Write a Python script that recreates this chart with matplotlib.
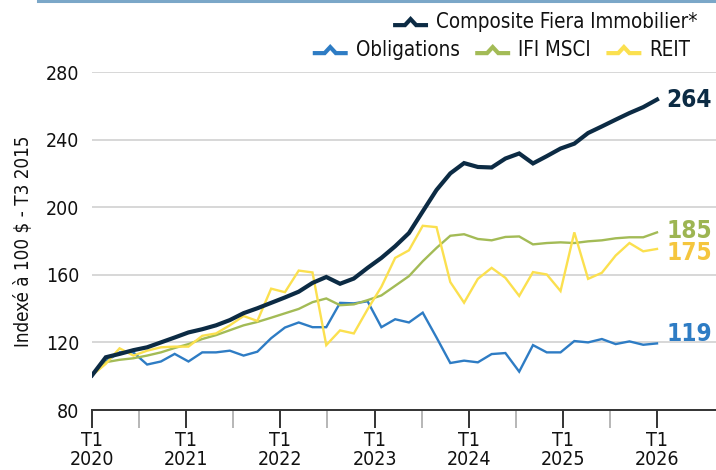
import numpy as np
import matplotlib
matplotlib.use("Agg")
import matplotlib.pyplot as plt
from matplotlib.lines import Line2D
from matplotlib.legend_handler import HandlerBase

plt.rcParams['font.family'] = ['DejaVu Sans']
plt.rcParams['font.stretch'] = 'condensed'

# values, 42 evenly spaced points from T1 2020 to T1 2026
composite = [100.5, 111.2, 113.2, 115.4, 117.1, 120.0, 122.9, 125.9, 127.8, 130.1,
             133.2, 137.3, 140.2, 143.4, 146.6, 150.0, 155.2, 158.7, 154.7, 157.8,
             164.1, 170.0, 176.9, 184.7, 197.5, 210.2, 220.0, 226.1, 223.8, 223.5,
             228.8, 231.8, 225.9, 230.2, 234.7, 237.6, 243.9, 247.8, 251.8, 255.7,
             259.2, 263.7]
obligations = [100.5, 108.8, 114.1, 114.1, 106.9, 108.7, 113.2, 108.7, 114.1, 114.1,
               115.1, 112.2, 114.5, 122.5, 128.8, 131.8, 129.0, 129.0, 143.4, 143.1,
               144.3, 129.0, 133.7, 131.8, 137.6, 122.9, 107.8, 109.2, 108.2, 113.1,
               113.7, 102.7, 118.4, 114.1, 114.1, 120.8, 120.0, 122.0, 119.0, 120.6,
               118.6, 119.4]
ifi_msci = [100.5, 108.3, 109.7, 110.6, 112.2, 114.1, 116.7, 119.0, 122.0, 124.3,
            127.2, 130.1, 132.1, 134.6, 137.2, 139.8, 143.8, 146.0, 142.0, 142.5,
            145.0, 147.8, 153.5, 159.2, 168.0, 175.9, 183.1, 184.0, 181.2, 180.4,
            182.4, 182.7, 178.0, 178.8, 179.2, 178.8, 179.8, 180.4, 181.6, 182.2,
            182.2, 185.1]
reit = [100.5, 107.3, 116.5, 112.2, 115.1, 117.1, 117.5, 117.5, 123.9, 125.3,
        130.1, 135.6, 132.7, 151.8, 149.7, 162.5, 161.4, 118.4, 127.1, 125.3,
        139.6, 152.9, 170.0, 174.5, 189.0, 188.2, 155.7, 143.5, 157.6, 164.1,
        158.2, 147.5, 161.6, 160.2, 150.4, 185.1, 157.6, 161.2, 171.4, 178.8,
        173.9, 175.3]
years = ['2020', '2021', '2022', '2023', '2024', '2025', '2026']
y_ticks = [80, 120, 160, 200, 240, 280]

c_comp = '#0c2b44'
c_obl = '#2e7cc4'
c_ifi = '#a3bb56'
c_reit = '#fbe04f'


class PeakHandler(HandlerBase):
    # legend symbol: a flat line with a small peak in the middle
    def create_artists(self, legend, orig_handle, xdescent, ydescent,
                       width, height, fontsize, trans):
        xs = np.array([0, 0.34, 0.5, 0.66, 1.0]) * width - xdescent
        ys = np.array([0.2, 0.2, 0.62, 0.2, 0.2]) * height - ydescent
        ln = Line2D(xs, ys, color=orig_handle.get_color(), lw=3.0,
                    solid_joinstyle='miter', solid_capstyle='butt')
        ln.set_transform(trans)
        return [ln]


fig = plt.figure(figsize=(7.16, 4.70), dpi=100, facecolor='white')
ax = fig.add_axes([92 / 716, 1 - 410 / 470, 1 - 92 / 716, (410 - 72) / 470])

n = len(composite)
x = np.arange(n)
per_year = (n - 1) / 6.0

l_obl, = ax.plot(x, obligations, color=c_obl, lw=1.7, solid_joinstyle='miter')
l_ifi, = ax.plot(x, ifi_msci, color=c_ifi, lw=1.7, solid_joinstyle='miter')
l_reit, = ax.plot(x, reit, color=c_reit, lw=1.7, solid_joinstyle='miter')
l_comp, = ax.plot(x, composite, color=c_comp, lw=3.0, solid_joinstyle='miter')

ax.set_xlim(0, (716 - 92) / (657 - 92) * (n - 1))
ax.set_ylim(80, 280)
ax.set_yticks(y_ticks)
ax.grid(axis='y', color='#d4d4d4', lw=1.3)
ax.set_axisbelow(True)

ax.set_xticks([k * per_year for k in range(len(years))])
ax.set_xticklabels(['T1\n' + yr for yr in years], fontsize=14, color='#111111',
                   linespacing=1.02)
ax.set_xticks([(k + 0.5) * per_year for k in range(len(years) - 1)], minor=True)
ax.tick_params(axis='x', which='major', length=13, width=1.4, color='#333333', pad=2)
ax.tick_params(axis='x', which='minor', length=13, width=1.2, color='#aaaaaa')
ax.tick_params(axis='y', length=0, pad=9, labelsize=14, labelcolor='#111111')

for side in ['left', 'right', 'top']:
    ax.spines[side].set_visible(False)
ax.spines['bottom'].set_color('#333333')
ax.spines['bottom'].set_linewidth(1.4)

ax.set_ylabel('Indexé à 100 $ - T3 2015', fontsize=13.5, color='#111111', labelpad=9)

# end-of-line value labels
end_labels = [(composite, '264', c_comp, 0), (ifi_msci, '185', '#9db552', 1),
              (reit, '175', '#f5c63e', -3), (obligations, '119', c_obl, 7)]
for series, txt, col, dy in end_labels:
    ax.annotate(txt, (x[-1], series[-1]), xytext=(7, dy), textcoords='offset points',
                ha='left', va='center', fontsize=17.5, fontweight='bold', color=col,
                annotation_clip=False)

# legends
leg1 = fig.legend([l_comp], ['Composite Fiera Immobilier*'], loc='center right',
                  bbox_to_anchor=(0.986, 1 - 22 / 470), frameon=False, fontsize=14.8,
                  handler_map={Line2D: PeakHandler()}, handlelength=1.7,
                  handletextpad=0.4, borderaxespad=0)
leg2 = fig.legend([l_obl, l_ifi, l_reit], ['Obligations', 'IFI MSCI', 'REIT'],
                  loc='center right', bbox_to_anchor=(0.976, 1 - 50 / 470), ncol=3,
                  frameon=False, fontsize=14.8, handler_map={Line2D: PeakHandler()},
                  handlelength=1.7, handletextpad=0.4, columnspacing=0.75,
                  borderaxespad=0)
for leg in (leg1, leg2):
    for t in leg.get_texts():
        t.set_color('#111111')

# thin rule along the top edge
fig.add_artist(Line2D([38 / 716, 1.0], [0.998, 0.998], color='#7ba7c8', lw=2.2,
                      transform=fig.transFigure))

fig.savefig('out.png', dpi=100, facecolor='white')
